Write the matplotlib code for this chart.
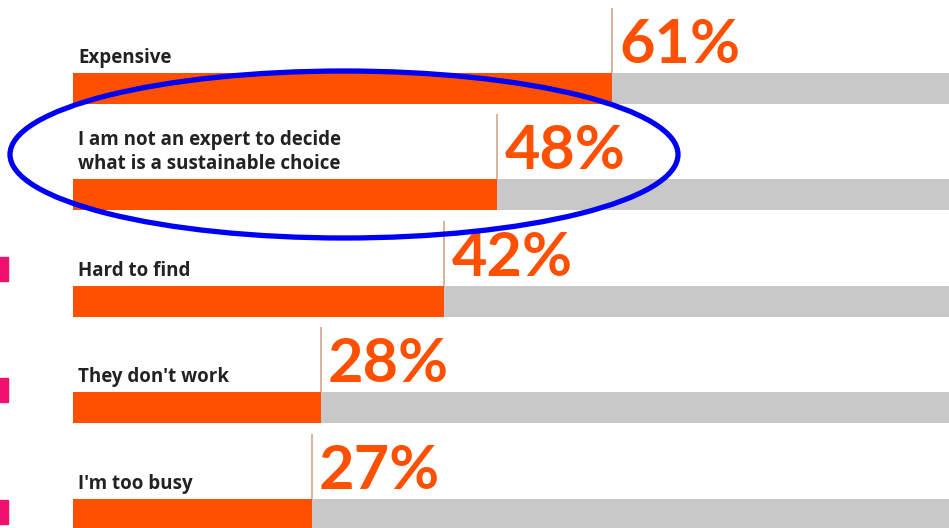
import matplotlib.pyplot as plt
from matplotlib.patches import Ellipse, Rectangle

# data
labels = ["Expensive",
          "I am not an expert to decide\nwhat is a sustainable choice",
          "Hard to find",
          "They don't work",
          "I'm too busy"]
values = [61, 48, 42, 28, 27]

orange = "#fe5000"
grey = "#c8c8c8"

W, H = 949, 528
fig = plt.figure(figsize=(W / 100, H / 100), dpi=100)
ax = fig.add_axes([0, 0, 1, 1])
ax.axis("off")

# x in percent, y in rows (row pitch ~106.5 px, first bar centre at 88 px)
px_per_pct = 8.84
x0 = 73
row_px = 106.5
y0 = 88
ax.set_xlim(-x0 / px_per_pct, (W - x0) / px_per_pct)
ax.set_ylim((H - y0) / row_px, -y0 / row_px)

bar_h = 31 / row_px
rows = list(range(len(values)))

ax.barh(rows, [100] * len(values), height=bar_h, color=grey, zorder=1)
ax.barh(rows, values, height=bar_h, color=orange, zorder=2)

top_gap = 10 / row_px
for i, (lab, v) in enumerate(zip(labels, values)):
    bar_top = i - bar_h / 2
    # thin marker line rising from the end of the bar
    ax.plot([v, v], [bar_top, bar_top - 65 / row_px], color="#d4a58c",
            lw=1.2, zorder=3, solid_capstyle="butt")
    ax.text(v + 0.8, bar_top - top_gap, f"{v}%", color=orange,
            fontsize=44, fontweight="bold", family="Lato",
            ha="left", va="baseline", zorder=4)
    ax.text(0.6, bar_top - top_gap, lab, color="#222222",
            fontsize=13.5, fontweight="bold", family="Open Sans",
            ha="left", va="baseline", linespacing=1.25, zorder=4)

# highlight ring around the second answer
ring = Ellipse(((344 - x0) / px_per_pct, (154.5 - y0) / row_px),
               668 / px_per_pct, 167 / row_px,
               fill=False, edgecolor="#0000f5", lw=3.8, zorder=5)
ax.add_patch(ring)

# pink markers cut off at the left edge
for yp in [257, 378, 500]:
    fig.patches.append(Rectangle((0, 1 - (yp + 24) / H), 8 / W, 24 / H,
                                 transform=fig.transFigure,
                                 color="#f0106e", zorder=6))

fig.savefig("out.png", dpi=100)
